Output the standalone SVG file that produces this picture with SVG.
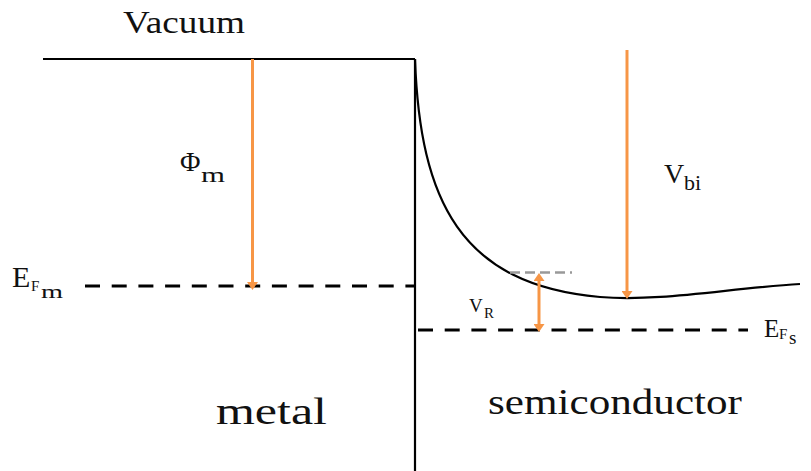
<svg xmlns="http://www.w3.org/2000/svg" width="811" height="471" viewBox="0 0 811 471">
<style>
  .lbl { fill: #111; }
  .band { fill: none; stroke: #000; stroke-width: 2.2; }
  .level { fill: none; stroke: #000; stroke-width: 3; stroke-dasharray: 15 11.7; }
  .ref { fill: none; stroke: #999; stroke-width: 2.5; stroke-dasharray: 10 5; }
  .arrow { fill: none; stroke: #F79646; stroke-width: 3; }
</style>
<defs>
  <marker id="ah" viewBox="0 0 8 11" refX="3" refY="5.5" markerWidth="8" markerHeight="11" markerUnits="userSpaceOnUse" orient="auto-start-reverse">
    <path d="M0,0 L8,5.5 L0,11 Z" fill="#F79646"/>
  </marker>
</defs>
<rect width="811" height="471" fill="#fff"/>

<g id="bands">
  <path id="vacuum-level" class="band" d="M43,59 H415"/>
  <path id="interface" class="band" d="M415,59 V471" stroke-width="2.5"/>
  <path id="conduction-band" class="band" d="M415,59 C420,200 460,285 600,297 C660,302 730,288 800,284"/>
</g>

<g id="levels">
  <path id="EFm-level" class="level" d="M85,286 H415"/>
  <path id="EFs-level" class="level" d="M418,330 H748"/>
  <path id="barrier-ref" class="ref" d="M510,272.5 H572"/>
</g>

<g id="connectors">
  <path id="phi-m-arrow" class="arrow" d="M252.5,59 V285" marker-end="url(#ah)"/>
  <path id="vbi-arrow" class="arrow" d="M627,50 V294" marker-end="url(#ah)"/>
  <path id="vr-arrow" class="arrow" d="M539,278 V327" marker-start="url(#ah)" marker-end="url(#ah)"/>
</g>

<g font-family="'Liberation Serif', 'DejaVu Serif', serif" class="lbl">
<g id="label-vacuum"><text x="123" y="33" font-size="32" textLength="122" lengthAdjust="spacingAndGlyphs">Vacuum</text></g>
<g id="label-phim"><text x="180" y="171" font-size="28">Φ<tspan x="201" y="182" font-size="21" textLength="24" lengthAdjust="spacingAndGlyphs">m</tspan></text></g>
<g id="label-vbi"><text x="664" y="183" font-size="28">V<tspan x="684" y="190" font-size="22">bi</tspan></text></g>
<g id="label-efm"><text x="12" y="287" font-size="30">E<tspan x="31" y="291" font-size="15">F</tspan><tspan x="41" y="298" font-size="19" textLength="22" lengthAdjust="spacingAndGlyphs">m</tspan></text></g>
<g id="label-efs"><text x="764" y="337" font-size="25">E<tspan x="779" y="339" font-size="15">F</tspan><tspan x="789" y="344" font-size="19">s</tspan></text></g>
<g id="label-vr"><text x="469" y="312" font-size="19">V<tspan x="484" y="318" font-size="15">R</tspan></text></g>
<g id="label-metal"><text x="216" y="424" font-size="38" textLength="111" lengthAdjust="spacingAndGlyphs">metal</text></g>
<g id="label-semiconductor"><text x="488" y="414" font-size="36" textLength="254" lengthAdjust="spacingAndGlyphs">semiconductor</text></g>
</g>
</svg>
